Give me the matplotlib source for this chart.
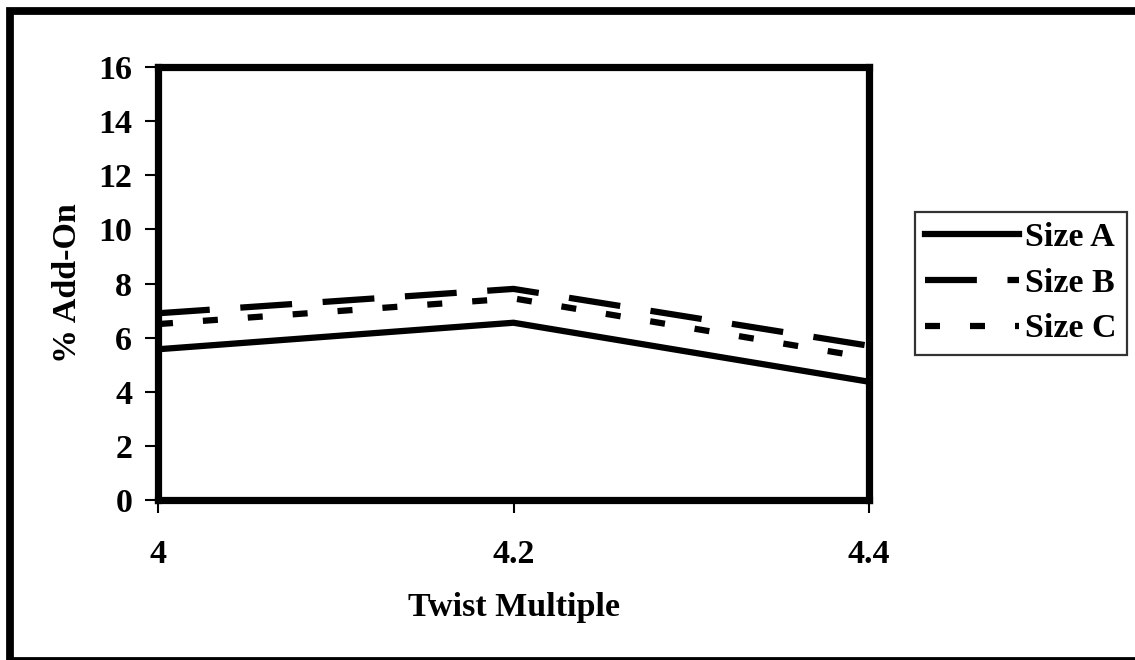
import matplotlib
matplotlib.use("Agg")
import matplotlib.pyplot as plt
from matplotlib.patches import Rectangle

twist = [4.0, 4.2, 4.4]
x_ticklabels = ["4", "4.2", "4.4"]
size_a = [5.57, 6.55, 4.37]
size_b = [6.9, 7.8, 5.7]
size_c = [6.5, 7.45, 5.25]
series_names = ["Size A", "Size B", "Size C"]
y_ticks = [0, 2, 4, 6, 8, 10, 12, 14, 16]

plt.rcParams['font.family'] = ['Liberation Serif', 'DejaVu Serif']
plt.rcParams['font.weight'] = 'bold'

FS = 24.5
W, H = 1135, 660
fig = plt.figure(figsize=(W / 100, H / 100), dpi=100)
ax = fig.add_axes([158 / W, 1 - 500 / H, (869 - 158) / W, (500 - 67) / H])

lw = 4.5
ax.plot(twist, size_a, color='black', lw=lw, solid_joinstyle='miter', label=series_names[0])
ax.plot(twist, size_b, color='black', lw=lw, dashes=(8.3, 4.9), label=series_names[1])
ax.plot(twist, size_c, color='black', lw=lw, dashes=(2.4, 4.8), label=series_names[2])

ax.set_xlim(4.0, 4.4)
ax.set_ylim(0, 16)
ax.set_xticks(twist)
ax.set_xticklabels(x_ticklabels)
ax.set_yticks(y_ticks)

for s in ax.spines.values():
    s.set_linewidth(5.2)
ax.tick_params(axis='y', direction='out', length=9.5, width=1.5, pad=9, labelsize=FS)
ax.tick_params(axis='x', direction='out', length=9, width=1.5, pad=19, labelsize=FS)
for lab in ax.get_xticklabels() + ax.get_yticklabels():
    lab.set_fontweight('bold')

ax.set_xlabel("Twist Multiple", fontsize=FS, fontweight='bold', labelpad=16)
ax.set_ylabel("% Add-On", fontsize=FS, fontweight='bold', labelpad=11)

leg = fig.legend(loc='upper left', bbox_to_anchor=(915 / W, 1 - 212 / H),
                 prop={'weight': 'bold', 'size': FS},
                 frameon=True, fancybox=False, edgecolor='black',
                 handlelength=2.75, handletextpad=0.18, borderpad=0.3,
                 labelspacing=0.43, borderaxespad=0)
leg.get_frame().set_linewidth(1.6)

# outer chart-area border (cropped at right/bottom)
fig.add_artist(Rectangle((9.7 / W, -1.0 / H), 1.2, 1 - 11 / H + 1.0 / H,
                         transform=fig.transFigure, fill=False,
                         edgecolor='black', linewidth=5.6, clip_on=False))

fig.savefig("out.png", dpi=100)
